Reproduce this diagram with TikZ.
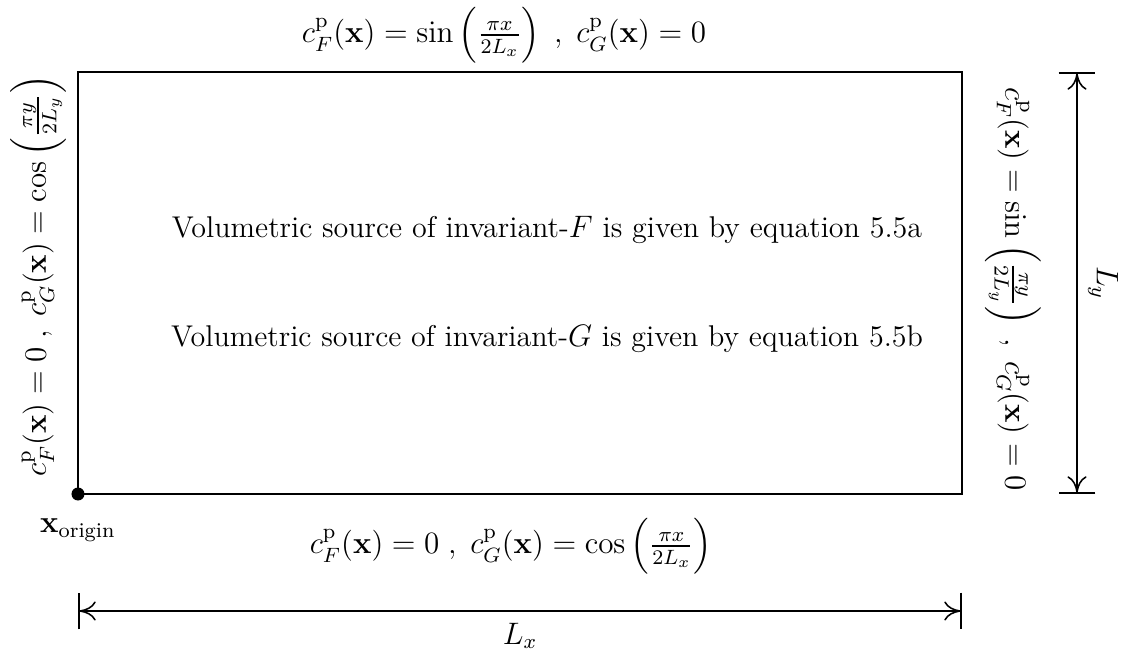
\documentclass[tikz,border=0pt]{standalone}
\usepackage{amsmath}
\usetikzlibrary{arrows.meta,positioning}

\begin{document}
\begin{tikzpicture}[
        x=0.013575cm, y=0.013575cm,
        font=\fontsize{11.6}{14}\selectfont,
        region/.style={draw, thick},
        dimline/.style={arrows={Bar[width=5mm] To[length=2.2mm,width=2.6mm]-To[length=2.2mm,width=2.6mm] Bar[width=5mm]}, semithick},
        bclabel/.style={inner sep=0pt}
      ]
      \useasboundingbox (-78,-166) rectangle (1044,494);
      \coordinate (origin) at (0,0);
      \coordinate (corner) at (884,422);
      \draw[region] (origin) rectangle (corner);
      \fill (origin) circle (6.5);
      \node[below=6pt of origin] (olabel) {$\mathbf{x}_{\text{origin}}$};
      % boundary conditions
      \node[bclabel] (top) at (426,459) {$c^{\text{p}}_F(\mathbf{x})=\sin\left(\frac{\pi x}{2L_x}\right)\;,\;c^{\text{p}}_G(\mathbf{x})=0$};
      \node[bclabel] (bottom) at (433,-52) {$c^{\text{p}}_F(\mathbf{x})=0\;,\;c^{\text{p}}_G(\mathbf{x})=\cos\left(\frac{\pi x}{2L_x}\right)$};
      \node[bclabel, rotate=90] (left) at (-40,218) {$c^{\text{p}}_F(\mathbf{x})=0\;,\;c^{\text{p}}_G(\mathbf{x})=\cos\left(\frac{\pi y}{2L_y}\right)$};
      \node[bclabel, rotate=-90] (right) at (935,205) {$c^{\text{p}}_F(\mathbf{x})=\sin\left(\frac{\pi y}{2L_y}\right)\;,\;c^{\text{p}}_G(\mathbf{x})=0$};
      % sources
      \node (srcF) at (469,264) {Volumetric source of invariant-$F$ is given by equation 5.5a};
      \node (srcG) at (469,155) {Volumetric source of invariant-$G$ is given by equation 5.5b};
      % dimensions
      \coordinate (lx0) at (0,-117);
      \coordinate (lx1) at (884,-117);
      \coordinate (ly0) at (999,0);
      \coordinate (ly1) at (999,422);
      \draw[dimline] (lx0) -- node[below=1pt] (lx) {$L_x$} (lx1);
      \draw[dimline] (ly1) -- node[rotate=-90, anchor=south, inner sep=4pt] (ly) {$L_y$} (ly0);
    \end{tikzpicture}
\end{document}
